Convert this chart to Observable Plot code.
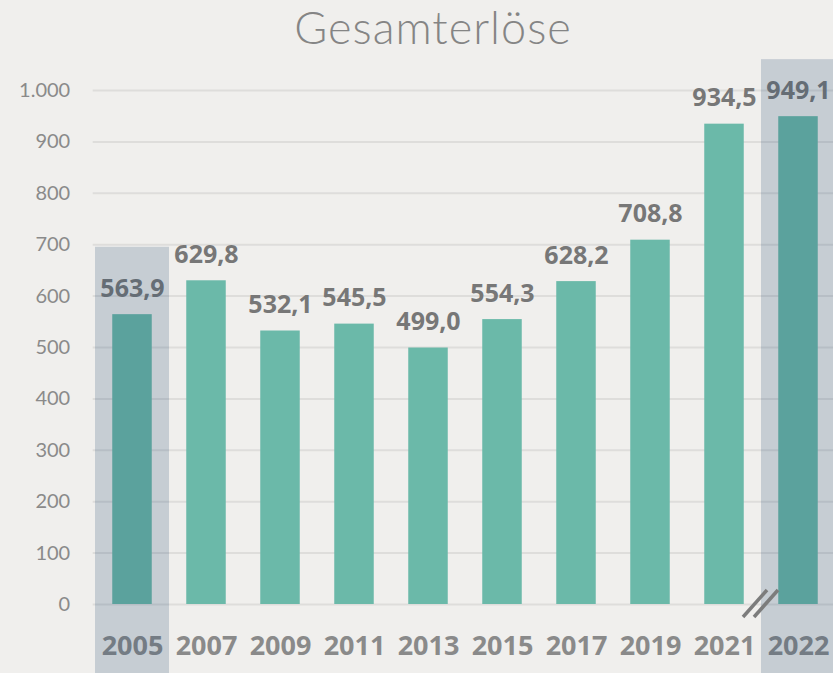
<!DOCTYPE html>
<html>
<head>
<meta charset="utf-8">
<script src="https://cdn.jsdelivr.net/npm/d3@7"></script>
<script src="https://cdn.jsdelivr.net/npm/@observablehq/plot@0.6"></script>
<style>
  html, body { margin: 0; padding: 0; background: #f0efed; overflow: hidden; width: 833px; height: 673px; }
  #title { position: absolute; left: 0; top: 0; width: 833px; padding-left: 33px; box-sizing: border-box;
    text-align: center; font-family: Lato, sans-serif; font-weight: 300; font-size: 45px; line-height: normal;
    letter-spacing: 1px; color: #858585; }
  #chart { position: absolute; left: 0; top: 56px; }
  #chart svg { max-width: none !important; }
</style>
</head>
<body>
<div id="title">Gesamterlöse</div>
<div id="chart"></div>
<script>
// ---- data ----
const years = ["2005", "2007", "2009", "2011", "2013", "2015", "2017", "2019", "2021", "2022"];
const values = [563.9, 629.8, 532.1, 545.5, 499.0, 554.3, 628.2, 708.8, 934.5, 949.1];
const highlightYears = ["2005", "2022"];
const highlightTops = [695, 1060];
const yTicks = [0, 100, 200, 300, 400, 500, 600, 700, 800, 900, 1000];
const breakYear = "2022";

// ---- build ----
const de = d3.formatLocale({decimal: ",", thousands: ".", grouping: [3], currency: ["", " €"]});
const fmtTick = de.format(",");
const fmtVal = de.format(",.1f");

const data = years.map((y, i) => ({year: y, value: values[i]}));
const highlights = highlightYears.map((y, i) => ({year: y, top: highlightTops[i], bottom: -200}));

function breakMark(index, scales) {
  const x0 = scales.x(breakYear);
  const y0 = scales.y(0);
  const g = d3.create("svg:g")
    .attr("stroke", "#7c7c7c").attr("stroke-width", 3.5).attr("stroke-linecap", "butt");
  [[-18, 13, 6, -14], [-7, 13, 17, -14]].forEach(([a, b, c, d]) => {
    g.append("line").attr("x1", x0 + a).attr("y1", y0 + b).attr("x2", x0 + c).attr("y2", y0 + d);
  });
  return g.node();
}

const plot = Plot.plot({
  width: 833,
  height: 617,
  marginLeft: 92.7,
  marginRight: -5,
  marginTop: 34,
  marginBottom: 69,
  style: {background: "transparent", fontFamily: "Lato, sans-serif", overflow: "hidden"},
  x: {domain: years, padding: 0, axis: null},
  y: {domain: [0, 1000], axis: null},
  marks: [
    Plot.gridY(yTicks, {stroke: "#dedddb", strokeWidth: 2, strokeOpacity: 1}),
    Plot.axisY(yTicks, {tickSize: 0, tickPadding: 23, tickFormat: fmtTick, fontSize: 20, fill: "#8a8a8a", label: null}),
    Plot.axisX({tickSize: 0, tickPadding: 31, fontSize: 27, fontWeight: "bold", fontFamily: "'Open Sans', sans-serif", fill: "#8a8a8a", label: null}),
    Plot.barY(data, {x: "year", y: "value", fill: "#6bb9a9", insetLeft: 17.25, insetRight: 17.25}),
    Plot.text(data, {x: "year", y: "value", text: d => fmtVal(d.value), lineAnchor: "bottom", dy: -18,
      fontSize: 25, fontWeight: "bold", fontFamily: "'Open Sans', sans-serif", fill: "#777777"}),
    Plot.rectY(highlights, {x: "year", y1: "bottom", y2: "top", fill: "rgb(28,71,109)", fillOpacity: 0.2}),
    breakMark
  ]
});
document.getElementById("chart").appendChild(plot);
</script>
</body>
</html>
